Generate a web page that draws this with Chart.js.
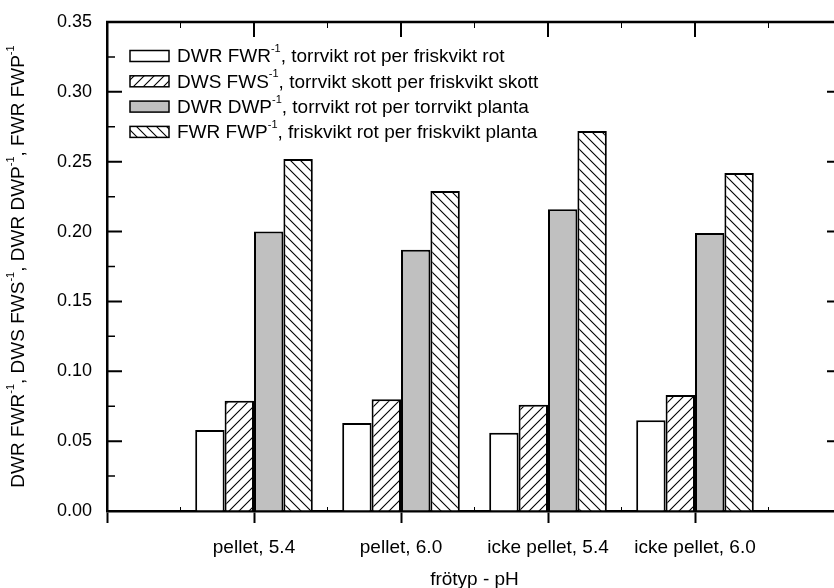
<!DOCTYPE html>
<html><head><meta charset="utf-8">
<script src="https://cdn.jsdelivr.net/npm/chart.js@4/dist/chart.umd.min.js"></script>
<style>html,body{margin:0;padding:0;overflow:hidden;background:#fff;width:834px;height:588px}canvas{display:block}</style>
</head><body><canvas id="c" width="860" height="588"></canvas>
<script>
const categories = ['pellet, 5.4', 'pellet, 6.0', 'icke pellet, 5.4', 'icke pellet, 6.0'];
const seriesNames = [
  'DWR FWR⁻¹, torrvikt rot per friskvikt rot',
  'DWS FWS⁻¹, torrvikt skott per friskvikt skott',
  'DWR DWP⁻¹, torrvikt rot per torrvikt planta',
  'FWR FWP⁻¹, friskvikt rot per friskvikt planta'
];
const dwrFwr = [0.058, 0.063, 0.056, 0.065];
const dwsFws = [0.079, 0.080, 0.076, 0.083];
const dwrDwp = [0.200, 0.187, 0.216, 0.199];
const fwrFwp = [0.252, 0.229, 0.272, 0.242];
const yTicks = [0, 0.05, 0.10, 0.15, 0.20, 0.25, 0.30, 0.35];
const yTitle = 'DWR FWR⁻¹, DWS FWS⁻¹, DWR DWP⁻¹, FWR FWP⁻¹';
const xTitle = 'frötyp - pH';

const FONT = "'Liberation Sans', Arial, sans-serif";

function hatch(dir) {
  const s = 10, c = document.createElement('canvas');
  c.width = s; c.height = s;
  const g = c.getContext('2d');
  g.fillStyle = '#fff'; g.fillRect(0, 0, s, s);
  g.strokeStyle = '#000'; g.lineWidth = 1.1;
  g.beginPath();
  if (dir > 0) {
    g.moveTo(-1, s + 1); g.lineTo(s + 1, -1);
    g.moveTo(-1, 1); g.lineTo(1, -1);
    g.moveTo(s - 1, s + 1); g.lineTo(s + 1, s - 1);
  } else {
    g.moveTo(-1, -1); g.lineTo(s + 1, s + 1);
    g.moveTo(s - 1, -1); g.lineTo(s + 1, 1);
    g.moveTo(-1, s - 1); g.lineTo(1, s + 1);
  }
  g.stroke();
  return document.getElementById('c').getContext('2d').createPattern(c, 'repeat');
}

const fills = ['#ffffff', hatch(1), '#c0c0c0', hatch(-1)];
const seriesValues = [dwrFwr, dwsFws, dwrDwp, fwrFwp];
const pad = arr => [null, ...arr, null];

function richWidth(ctx, text, size) {
  const parts = text.split('⁻¹');
  let w = 0;
  parts.forEach((p, i) => {
    ctx.font = size + 'px ' + FONT; w += ctx.measureText(p).width;
    if (i < parts.length - 1) { ctx.font = Math.round(size * 0.6) + 'px ' + FONT; w += ctx.measureText('-1').width; }
  });
  return w;
}
function drawRich(ctx, text, x, y, size) {
  const parts = text.split('⁻¹');
  let cx = x;
  ctx.textBaseline = 'middle'; ctx.textAlign = 'left'; ctx.fillStyle = '#000';
  parts.forEach((p, i) => {
    ctx.font = size + 'px ' + FONT; ctx.fillText(p, cx, y); cx += ctx.measureText(p).width;
    if (i < parts.length - 1) {
      ctx.font = Math.round(size * 0.6) + 'px ' + FONT;
      ctx.fillText('-1', cx, y - size * 0.42); cx += ctx.measureText('-1').width;
    }
  });
}

const decor = {
  id: 'decor',
  afterDraw(chart) {
    const { ctx, chartArea: a, scales: { x, y } } = chart;
    ctx.save();
    ctx.strokeStyle = '#000';
    ctx.lineWidth = 2.5;
    ctx.beginPath();
    ctx.moveTo(a.left - 1, a.top); ctx.lineTo(a.right, a.top); ctx.lineTo(a.right, a.bottom);
    ctx.stroke();
    const majors = y.ticks.map(t => y.getPixelForValue(t.value));
    ctx.lineWidth = 2;
    majors.forEach(py => {
      ctx.beginPath(); ctx.moveTo(a.left, py); ctx.lineTo(a.left + 15, py);
      ctx.moveTo(a.right, py); ctx.lineTo(a.right - 15, py); ctx.stroke();
    });
    ctx.lineWidth = 1.5;
    for (let i = 0; i < majors.length - 1; i++) {
      const py = (majors[i] + majors[i + 1]) / 2;
      ctx.beginPath(); ctx.moveTo(a.left, py); ctx.lineTo(a.left + 8, py);
      ctx.moveTo(a.right, py); ctx.lineTo(a.right - 8, py); ctx.stroke();
    }
    const xs = x.ticks.map((t, i) => x.getPixelForValue(i));
    ctx.lineWidth = 2;
    xs.forEach(px => { ctx.beginPath(); ctx.moveTo(px, a.top); ctx.lineTo(px, a.top + 15); ctx.stroke(); });
    ctx.lineWidth = 1;
    for (let i = 0; i < xs.length - 1; i++) {
      const px = (xs[i] + xs[i + 1]) / 2;
      ctx.beginPath(); ctx.moveTo(px, a.top); ctx.lineTo(px, a.top + 6);
      ctx.moveTo(px, a.bottom); ctx.lineTo(px, a.bottom - 4); ctx.stroke();
    }
    // legend
    const size = 19;
    chart.data.datasets.forEach((ds, i) => {
      const cy = a.top + 34 + i * 25.3;
      ctx.fillStyle = ds.backgroundColor;
      ctx.fillRect(130, cy - 5.5, 39, 11);
      ctx.lineWidth = 1.5; ctx.strokeStyle = '#000';
      ctx.strokeRect(130, cy - 5.5, 39, 11);
      drawRich(ctx, ds.label, 177, cy + 1, size);
    });
    // y title
    ctx.save();
    const ts = 19;
    ctx.translate(19, (a.top + a.bottom) / 2);
    ctx.rotate(-Math.PI / 2);
    const w = richWidth(ctx, yTitle, ts);
    drawRich(ctx, yTitle, -w / 2, 0, ts);
    ctx.restore();
    ctx.restore();
  }
};

new Chart(document.getElementById('c'), {
  type: 'bar',
  data: {
    labels: ['', ...categories, ''],
    datasets: seriesValues.map((vals, i) => ({
      label: seriesNames[i],
      data: pad(vals),
      backgroundColor: fills[i],
      borderColor: '#000',
      borderWidth: 2,
      categoryPercentage: 0.8,
      barPercentage: 1.0
    }))
  },
  options: {
    responsive: false,
    animation: false,
    layout: { padding: { left: 0, top: 22, right: 18, bottom: 0 } },
    plugins: { legend: { display: false }, tooltip: { enabled: false } },
    scales: {
      x: {
        offset: false,
        grid: { display: true, drawOnChartArea: false, drawTicks: true, tickLength: 12, tickWidth: 2, tickColor: '#000', offset: false },
        border: { display: true, color: '#000', width: 2.5 },
        ticks: { font: { family: FONT, size: 19 }, color: '#000', padding: 13, autoSkip: false, maxRotation: 0 },
        title: { display: true, text: xTitle, font: { family: FONT, size: 19, lineHeight: 0.9 }, color: '#000', padding: { top: 0, bottom: 0 } },
        afterFit(s) { s.height = 77; }
      },
      y: {
        min: 0, max: 0.35,
        afterBuildTicks(s) { s.ticks = yTicks.map(v => ({ value: v })); },
        grid: { display: true, drawOnChartArea: false, drawTicks: false },
        border: { display: true, color: '#000', width: 2.5 },
        ticks: { font: { family: FONT, size: 18 }, color: '#000', padding: 15, callback: v => Number(v).toFixed(2) },
        afterFit(s) { s.width = 107; s.paddingTop = 0; s.paddingBottom = 0; }
      }
    }
  },
  plugins: [decor]
});
</script>
</body></html>
